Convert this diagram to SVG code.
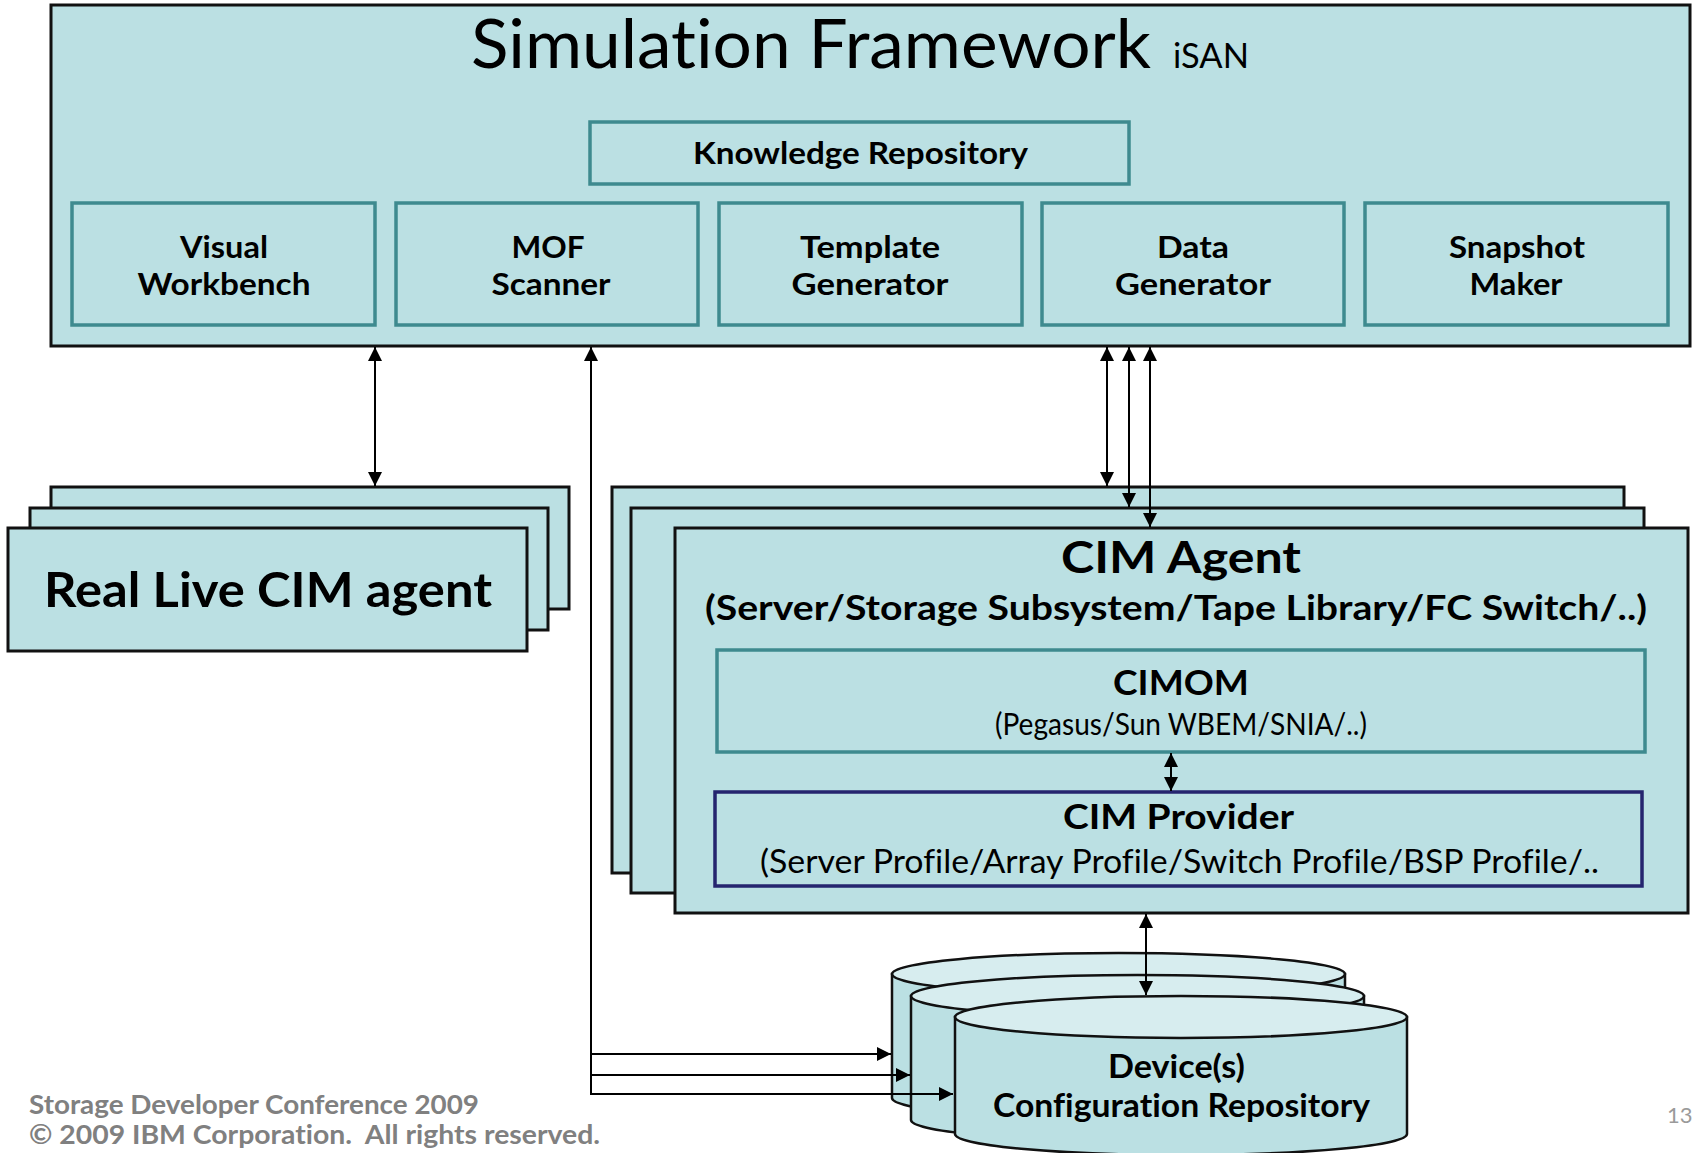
<svg xmlns="http://www.w3.org/2000/svg" width="1694" height="1153" viewBox="0 0 1694 1153">
  <style>
    .panel { fill: #bbe0e3; stroke: #111; stroke-width: 3; }
    .module { fill: #bbe0e3; stroke: #3e8a8f; stroke-width: 3.5; }
    .provider { fill: #bbe0e3; stroke: #25256f; stroke-width: 3.5; }
    .cyl { fill: #bbe0e3; stroke: #111; stroke-width: 2.5; }
    .cyltop { fill: #d7edef; stroke: #111; stroke-width: 2.5; }
    .wire { fill: none; stroke: #000; stroke-width: 2; }
    text { font-family: Lato, "Open Sans", "Liberation Sans", sans-serif; fill: #000; font-variant-ligatures: none; }
    .b { font-weight: 700; }
    .c { text-anchor: middle; }
    .foot { font-weight: 700; fill: #808080; font-size: 26px; white-space: pre; }
  </style>
  <defs>
    <marker id="head" viewBox="0 0 14 14" refX="14" refY="7" markerWidth="14" markerHeight="14" markerUnits="userSpaceOnUse" orient="auto-start-reverse">
      <path d="M0,0 L14,7 L0,14 z" fill="#000"/>
    </marker>
  </defs>

  <!-- Simulation framework container -->
  <g id="framework">
    <rect class="panel" x="51" y="5" width="1639" height="341"/>
    <text x="471" y="68" font-size="68" textLength="680" lengthAdjust="spacingAndGlyphs">Simulation Framework</text>
    <text x="1173" y="68" font-size="34" textLength="76" lengthAdjust="spacingAndGlyphs">iSAN</text>
  </g>

  <g id="knowledge-repository">
    <rect class="module" x="590" y="122" width="539" height="62"/>
    <text class="b c" x="860.5" y="164" font-size="30" textLength="335" lengthAdjust="spacingAndGlyphs">Knowledge Repository</text>
  </g>

  <g id="visual-workbench">
    <rect class="module" x="72" y="203" width="303" height="122"/>
    <text class="b c" x="224" y="258" font-size="31" textLength="88" lengthAdjust="spacingAndGlyphs">Visual</text>
    <text class="b c" x="224" y="295" font-size="31" textLength="173" lengthAdjust="spacingAndGlyphs">Workbench</text>
  </g>

  <g id="mof-scanner">
    <rect class="module" x="396" y="203" width="302" height="122"/>
    <text class="b c" x="548" y="258" font-size="31" textLength="73" lengthAdjust="spacingAndGlyphs">MOF</text>
    <text class="b c" x="551" y="295" font-size="31" textLength="119" lengthAdjust="spacingAndGlyphs">Scanner</text>
  </g>

  <g id="template-generator">
    <rect class="module" x="719" y="203" width="303" height="122"/>
    <text class="b c" x="870" y="258" font-size="31" textLength="140" lengthAdjust="spacingAndGlyphs">Template</text>
    <text class="b c" x="870" y="295" font-size="31" textLength="157" lengthAdjust="spacingAndGlyphs">Generator</text>
  </g>

  <g id="data-generator">
    <rect class="module" x="1042" y="203" width="302" height="122"/>
    <text class="b c" x="1193" y="258" font-size="31" textLength="72" lengthAdjust="spacingAndGlyphs">Data</text>
    <text class="b c" x="1193" y="295" font-size="31" textLength="156" lengthAdjust="spacingAndGlyphs">Generator</text>
  </g>

  <g id="snapshot-maker">
    <rect class="module" x="1365" y="203" width="303" height="122"/>
    <text class="b c" x="1517" y="258" font-size="31" textLength="136" lengthAdjust="spacingAndGlyphs">Snapshot</text>
    <text class="b c" x="1516" y="295" font-size="31" textLength="93" lengthAdjust="spacingAndGlyphs">Maker</text>
  </g>

  <!-- Stack of real CIM agents -->
  <g id="real-live-cim-agent">
    <rect class="panel" x="51" y="487" width="518" height="122"/>
    <rect class="panel" x="30" y="508" width="518" height="122"/>
    <rect class="panel" x="8" y="528" width="519" height="123"/>
    <text class="b c" x="268" y="607" font-size="48" textLength="448" lengthAdjust="spacingAndGlyphs">Real Live CIM agent</text>
  </g>

  <!-- Stack of simulated CIM agents -->
  <g id="cim-agent">
    <rect class="panel" x="612" y="487" width="1012" height="386"/>
    <rect class="panel" x="631" y="508" width="1013" height="385"/>
    <rect class="panel" x="675" y="528" width="1013" height="385"/>
    <text class="b c" x="1181" y="573" font-size="43" textLength="240" lengthAdjust="spacingAndGlyphs">CIM Agent</text>
    <text class="b c" x="1176" y="620" font-size="35" textLength="942" lengthAdjust="spacingAndGlyphs">(Server/Storage Subsystem/Tape Library/FC Switch/..)</text>
  </g>

  <g id="cimom">
    <rect class="module" x="717" y="650" width="928" height="102"/>
    <text class="b c" x="1181" y="695" font-size="35" textLength="136" lengthAdjust="spacingAndGlyphs">CIMOM</text>
    <text class="c" x="1181" y="735" font-size="30" textLength="372" lengthAdjust="spacingAndGlyphs">(Pegasus/Sun WBEM/SNIA/..)</text>
  </g>

  <g id="cim-provider">
    <rect class="provider" x="715" y="792" width="927" height="94"/>
    <text class="b c" x="1178.5" y="829" font-size="35" textLength="231" lengthAdjust="spacingAndGlyphs">CIM Provider</text>
    <text class="c" x="1179.5" y="873" font-size="33" textLength="839" lengthAdjust="spacingAndGlyphs">(Server Profile/Array Profile/Switch Profile/BSP Profile/..</text>
  </g>

  <!-- Stack of configuration repositories (cylinders) -->
  <g id="configuration-repository">
    <path class="cyl" d="M892,974 V1098 A226.5,21 0 0 0 1345,1098 V974 Z"/>
    <ellipse class="cyltop" cx="1118.5" cy="974" rx="226.5" ry="21"/>
    <path class="cyl" d="M911,996 V1120 A226.5,21 0 0 0 1364,1120 V996 Z"/>
    <ellipse class="cyltop" cx="1137.5" cy="996" rx="226.5" ry="21"/>
    <path class="cyl" d="M955,1017 V1134 A226,21 0 0 0 1407,1134 V1017 Z"/>
    <ellipse class="cyltop" cx="1181" cy="1017" rx="226" ry="21"/>
    <text class="b c" x="1176.5" y="1078" font-size="32" textLength="137" lengthAdjust="spacingAndGlyphs">Device(s)</text>
    <text class="b c" x="1181.5" y="1117" font-size="32" textLength="377" lengthAdjust="spacingAndGlyphs">Configuration Repository</text>
  </g>

  <!-- Connectors -->
  <g id="connectors">
    <line class="wire" x1="375" y1="347" x2="375" y2="486" marker-start="url(#head)" marker-end="url(#head)"/>
    <line class="wire" x1="1107" y1="347" x2="1107" y2="486" marker-start="url(#head)" marker-end="url(#head)"/>
    <line class="wire" x1="1129" y1="347" x2="1129" y2="507" marker-start="url(#head)" marker-end="url(#head)"/>
    <line class="wire" x1="1150" y1="347" x2="1150" y2="527" marker-start="url(#head)" marker-end="url(#head)"/>
    <line class="wire" x1="1171" y1="753" x2="1171" y2="791" marker-start="url(#head)" marker-end="url(#head)"/>
    <line class="wire" x1="1146" y1="914" x2="1146" y2="995" marker-start="url(#head)" marker-end="url(#head)"/>
    <polyline class="wire" points="591,1094 591,347" marker-end="url(#head)"/>
    <line class="wire" x1="590" y1="1054" x2="891" y2="1054" marker-end="url(#head)"/>
    <line class="wire" x1="590" y1="1075" x2="910" y2="1075" marker-end="url(#head)"/>
    <line class="wire" x1="590" y1="1094" x2="953" y2="1094" marker-end="url(#head)"/>
  </g>

  <!-- Slide footer -->
  <g id="footer">
    <text class="foot" x="29" y="1114" textLength="450" lengthAdjust="spacingAndGlyphs">Storage Developer Conference 2009</text>
    <text class="foot" x="29" y="1144" textLength="571" lengthAdjust="spacingAndGlyphs">© 2009 IBM Corporation.  All rights reserved.</text>
    <text x="1667" y="1123" font-size="22" style="fill:#9a9a9a">13</text>
  </g>
</svg>
